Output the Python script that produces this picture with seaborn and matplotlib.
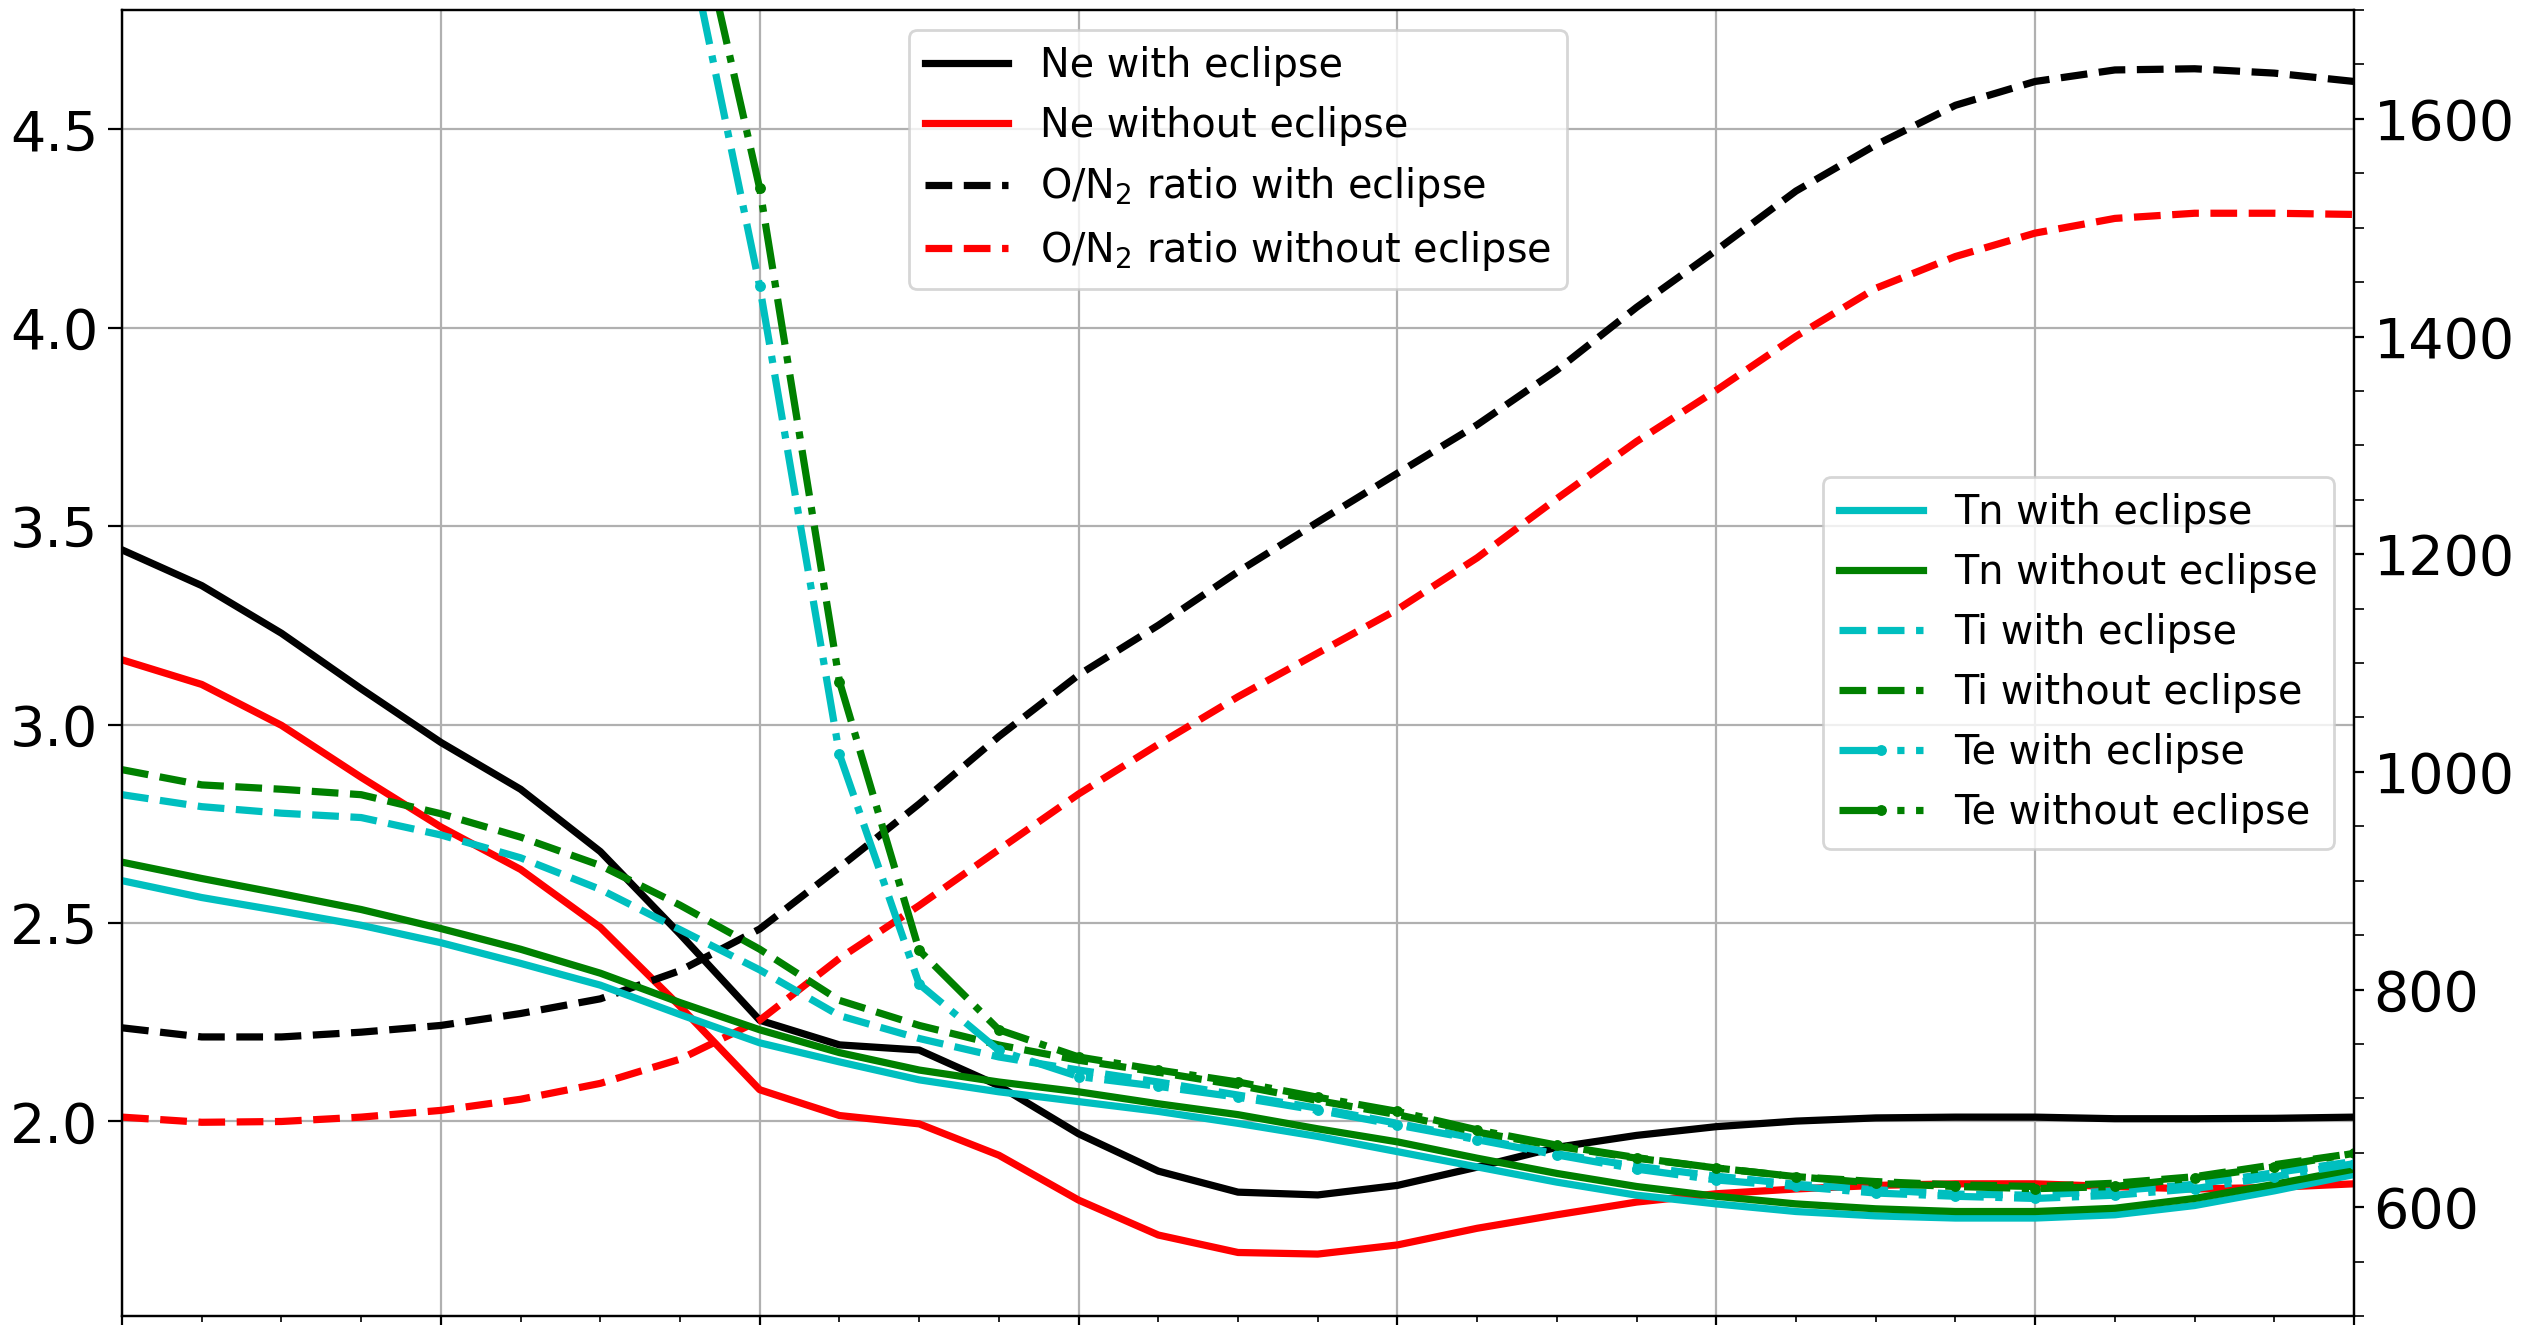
import numpy as np
import matplotlib
matplotlib.use("Agg")
import matplotlib.pyplot as plt
from matplotlib.ticker import MultipleLocator, FuncFormatter
import seaborn as sns

# Universal time (hours), one sample every 15 minutes
hours = [6.00, 6.25, 6.50, 6.75, 7.00, 7.25, 7.50, 7.75,
         8.00, 8.25, 8.50, 8.75, 9.00, 9.25, 9.50, 9.75,
         10.00, 10.25, 10.50, 10.75, 11.00, 11.25, 11.50, 11.75,
         12.00, 12.25, 12.50, 12.75, 13.00]

# Left axis: electron density and O/N2 ratio
ne_ecl = [3.44, 3.35, 3.23, 3.09, 2.955, 2.837, 2.68, 2.472, 2.255, 2.193,
          2.18, 2.09, 1.969, 1.875, 1.822, 1.815, 1.839, 1.885, 1.935, 1.965,
          1.987, 2.001, 2.009, 2.011, 2.011, 2.007, 2.007, 2.008, 2.011]
ne_noecl = [3.163, 3.101, 2.998, 2.867, 2.742, 2.635, 2.489, 2.29, 2.08, 2.015,
            1.994, 1.915, 1.802, 1.714, 1.670, 1.666, 1.689, 1.731, 1.765, 1.797,
            1.818, 1.830, 1.839, 1.843, 1.843, 1.836, 1.830, 1.834, 1.843]
on2_ecl = [2.236, 2.213, 2.213, 2.225, 2.242, 2.272, 2.309, 2.38, 2.485, 2.64,
           2.80, 2.97, 3.125, 3.25, 3.385, 3.51, 3.633, 3.755, 3.893, 4.051,
           4.195, 4.344, 4.46, 4.56, 4.62, 4.649, 4.652, 4.641, 4.62]
on2_noecl = [2.011, 1.998, 2.0, 2.011, 2.028, 2.056, 2.096, 2.157, 2.255, 2.411,
             2.544, 2.685, 2.825, 2.95, 3.07, 3.18, 3.29, 3.42, 3.569, 3.713,
             3.842, 3.978, 4.099, 4.179, 4.238, 4.275, 4.288, 4.288, 4.285]

# Right axis: neutral, ion and electron temperatures (K)
tn_ecl = [900, 884.5, 872, 859, 843, 824, 804, 777, 751, 733.5,
          717, 706, 697, 688, 677, 665, 651, 637, 623, 611,
          603, 596, 592, 590, 590, 593, 601.5, 615, 630]
tn_noecl = [917, 902, 888, 873.5, 856, 837, 815, 788, 763, 742,
            726, 715, 706, 695, 685, 672, 660, 645, 631, 619,
            610, 603, 598.5, 596, 596, 599, 608, 621, 635]
ti_ecl = [979, 968, 962, 958, 942, 921, 892, 855, 818, 776,
          755, 738, 726, 715, 703, 691, 677, 663, 649, 637.6,
          628.5, 621, 616, 612, 611, 615, 621, 631.6, 642]
ti_noecl = [1002, 988, 984, 979, 961.5, 940, 914, 877.5, 837, 790,
            767, 749, 735, 724, 712, 698, 685, 669, 656, 645,
            636, 628, 623.5, 620.5, 619, 622, 628, 639, 649.5]
nan = np.nan
te_ecl = [nan, nan, nan, nan, nan, nan, nan, 1800, 1446, 1016,
          805, 744, 720, 711, 701, 689, 675.5, 662, 648, 635,
          625, 619, 613, 610, 608, 611, 617, 628, 640]
te_noecl = [nan, nan, nan, nan, nan, nan, nan, 1860, 1536, 1083,
            836, 763, 738, 726, 715, 701, 688, 671, 657, 645.5,
            636, 628, 622, 619, 617, 619, 627, 637, 649.5]

plt.rcParams["font.family"] = ["DejaVu Sans"]
plt.rcParams["mathtext.fontset"] = "dejavusans"

fig = plt.figure(figsize=(12.72, 6.625), dpi=200)
ax = fig.add_axes([0.04796, 0.00679, 0.87736, 0.98566])
ax2 = ax.twinx()

LW = 2.6


def draw(axis, y, color, ls, label, marker=None):
    kws = dict(x=hours, y=y, ax=axis, color=color, linestyle=ls, lw=LW,
               label=label, legend=False)
    if marker:
        kws.update(marker=marker, markersize=3.4, markeredgecolor=color,
                   markerfacecolor=color, markeredgewidth=0.5)
    sns.lineplot(**kws)


draw(ax, ne_ecl, "k", "-", "Ne with eclipse")
draw(ax, ne_noecl, "r", "-", "Ne without eclipse")
draw(ax, on2_ecl, "k", "--", "O/N$_2$ ratio with eclipse")
draw(ax, on2_noecl, "r", "--", "O/N$_2$ ratio without eclipse")

draw(ax2, tn_ecl, "c", "-", "Tn with eclipse")
draw(ax2, tn_noecl, "g", "-", "Tn without eclipse")
draw(ax2, ti_ecl, "c", "--", "Ti with eclipse")
draw(ax2, ti_noecl, "g", "--", "Ti without eclipse")
draw(ax2, te_ecl, "c", "-.", "Te with eclipse", marker="o")
draw(ax2, te_noecl, "g", "-.", "Te without eclipse", marker="o")

ax.set_xlim(hours[0], hours[-1])
ax.set_ylim(1.51, 4.8)
ax2.set_ylim(500, 1700)

ax.xaxis.set_major_locator(MultipleLocator(1.0))
ax.xaxis.set_minor_locator(MultipleLocator(0.25))
ax.yaxis.set_major_locator(MultipleLocator(0.5))
ax.yaxis.set_major_formatter(FuncFormatter(lambda v, p: f"{v:.1f}"))
ax2.yaxis.set_major_locator(MultipleLocator(200))
ax2.yaxis.set_minor_locator(MultipleLocator(50))

ax.tick_params(axis="x", which="both", labelbottom=False)
ax.tick_params(axis="y", which="major", labelsize=20, length=5)
ax2.tick_params(axis="y", which="major", labelsize=20, length=3.5)
ax2.tick_params(axis="y", which="minor", length=3.5)

ax.grid(True, which="major", color="#b0b0b0", lw=0.8)
ax.set_xlabel("")
ax.set_ylabel("")
ax2.set_ylabel("")

h1, l1 = ax.get_legend_handles_labels()
h2, l2 = ax2.get_legend_handles_labels()
ax.legend(h1, l1, loc="upper center", fontsize=14.3, handlelength=2.1)
ax2.legend(h2, l2, loc="center right", fontsize=14.3, handlelength=2.1)

fig.savefig("out.png", dpi=200)
